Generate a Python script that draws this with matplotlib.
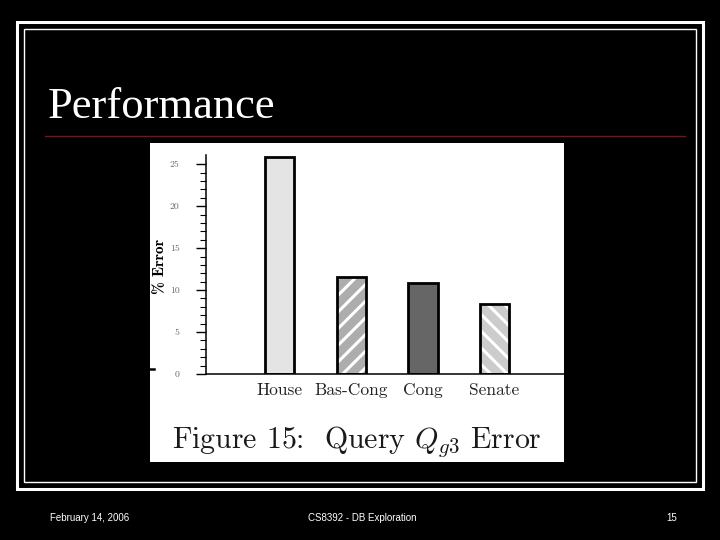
import matplotlib
matplotlib.use("Agg")
from matplotlib import pyplot as plt
from matplotlib.patches import Rectangle
from matplotlib.lines import Line2D
import numpy as np

# datos del grafico
categorias = ["House", "Bas-Cong", "Cong", "Senate"]
errores = [25.9, 11.6, 10.8, 8.3]
colores = ["#e4e4e4", "#adadad", "#666666", "#cccccc"]
rayas = [None, "//", None, "\\\\"]
yticks = [0, 5, 10, 15, 20, 25]

titulo = "Performance"
pie_izq = "February 14, 2006"
pie_centro = "CS8392 - DB Exploration"
pie_der = "15"
etiqueta_y = "% Error"
leyenda = "Figure 15:  Query $Q_{g3}$ Error"

plt.rcParams["mathtext.fontset"] = "cm"
plt.rcParams["hatch.linewidth"] = 2.2
plt.rcParams["axes.unicode_minus"] = False

W, H = 720, 540
fig = plt.figure(figsize=(7.2, 5.4), dpi=100, facecolor="black")


def fx(x):
    return x / W


def fy(y):
    return 1 - y / H


# marcos blancos de la diapositiva
fig.add_artist(Rectangle((fx(16.5), fy(489)), fx(702.5) - fx(16.5), fy(22) - fy(489),
                         transform=fig.transFigure, fill=False, edgecolor="white", lw=2.2))
fig.add_artist(Rectangle((fx(24), fy(482)), fx(696) - fx(24), fy(29) - fy(482),
                         transform=fig.transFigure, fill=False, edgecolor="white", lw=1.0))

# titulo y linea roja
fig.text(fx(48), fy(118), titulo, family="Liberation Serif", fontsize=32,
         color="white", va="baseline", ha="left")
fig.add_artist(Line2D([fx(45), fx(685)], [fy(136), fy(136)], transform=fig.transFigure,
                      color="#7a1414", lw=1.0))

# fondo blanco de la figura (como eje vacio)
fondo = fig.add_axes([fx(150), fy(462), fx(564) - fx(150), fy(143) - fy(462)])
fondo.set_facecolor("white")
fondo.set_xticks([])
fondo.set_yticks([])
for s in fondo.spines.values():
    s.set_visible(False)
fondo.text(0.5, (fy(448) - fy(462)) / (fy(143) - fy(462)), leyenda, family="cmr10",
           fontsize=21.5, ha="center", va="baseline", color="#1a1a1a",
           transform=fondo.transAxes)
# marquita negra del borde izquierdo
fig.add_artist(Line2D([fx(150), fx(154)], [fy(369), fy(369)], transform=fig.transFigure,
                      color="black", lw=1.8))

ax = fig.add_axes([fx(206), fy(374), fx(564) - fx(206), fy(155) - fy(374)])
ax.set_facecolor("none")
x = np.arange(len(categorias))
for i in range(len(categorias)):
    if rayas[i] is None:
        ax.bar(x[i], errores[i], width=0.41, color=colores[i], edgecolor="black", lw=2)
    else:
        ax.bar(x[i], errores[i], width=0.41, color=colores[i], edgecolor="white",
               hatch=rayas[i], lw=0)
        ax.bar(x[i], errores[i], width=0.41, fill=False, edgecolor="black", lw=2)

ax.set_xlim(-1.03, 3.97)
ax.set_ylim(0, 26.1)
ax.spines["top"].set_visible(False)
ax.spines["right"].set_visible(False)
ax.spines["left"].set_linewidth(1.1)
ax.spines["bottom"].set_linewidth(1.1)
ax.set_xticks(x)
ax.set_xticklabels(categorias, family="cmr10", fontsize=12.5, color="#222222")
ax.tick_params(axis="x", length=0, pad=6)
ax.set_yticks(yticks)
ax.set_yticks(np.arange(0, 26, 1), minor=True)
ax.tick_params(axis="y", which="major", length=7, width=1, pad=12,
               labelsize=7, labelcolor="#666666")
ax.tick_params(axis="y", which="minor", length=4, width=0.8)
for lab in ax.get_yticklabels():
    lab.set_family("cmr10")

fig.text(fx(160), fy(266), etiqueta_y, family="cmb10", fontsize=11, rotation=90,
         ha="center", va="center", color="black")

# pie de pagina
fig.text(fx(50), fy(518), pie_izq, family="Liberation Sans", fontsize=7, color="white",
         ha="left", va="center")
fig.text(fx(362), fy(518), pie_centro, family="Liberation Sans", fontsize=7, color="white",
         ha="center", va="center")
fig.text(fx(672), fy(518), pie_der, family="Liberation Sans", fontsize=7, color="white",
         ha="center", va="center")

fig.savefig("out.png", dpi=100, facecolor="black")
